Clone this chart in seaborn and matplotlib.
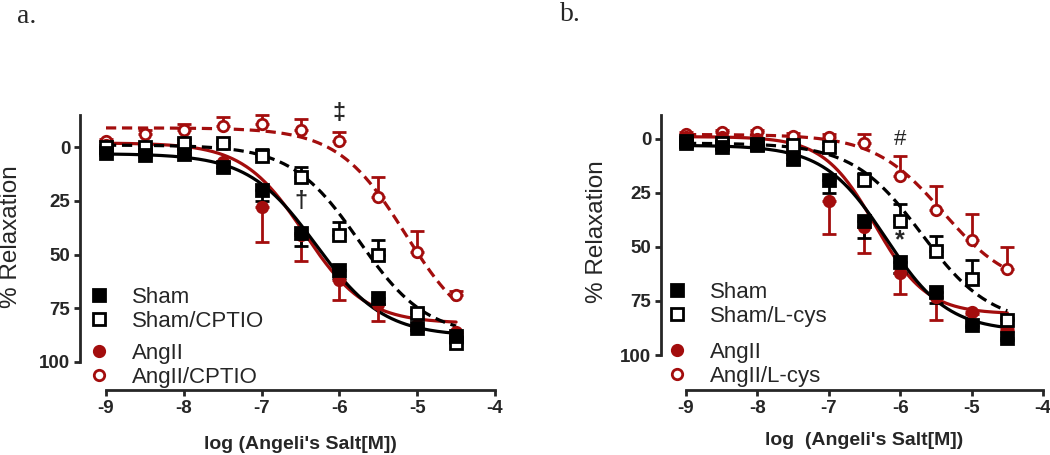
import numpy as np
import matplotlib
matplotlib.use('Agg')
import matplotlib.pyplot as plt
from matplotlib.lines import Line2D
import seaborn as sns

# log concentration of Angeli's salt (M)
log_conc = [-9, -8.5, -8, -7.5, -7, -6.5, -6, -5.5, -5, -4.5]

# panel a - means and one-sided SEM
sham_a = [2.5, 3.5, 3, 9, 20, 40, 57, 70, 84, 88]
sham_a_err = [1, 1, 1, 2, 5, 6, 4, 3, 1, 1]
sham_cptio = [0, 0, -2, -2, 4, 14, 41, 50, 77, 91]
sham_cptio_err = [1, 1, 2, 1, 3, 5, 6, 7, 1, 1]
ang_a = [-1, 0, 1, 7, 28, 41, 62, 73, 83, 86]
ang_a_err = [1, 1, 1, 2, 16, 12, 9, 8, 2, 1]
ang_cptio = [-3, -6, -8, -10, -11, -8, -3, 23, 49, 69]
ang_cptio_err = [1, 2, 3, 4, 4, 5, 4, 9, 10, 2]

# panel b
sham_b = [2, 4, 3, 9.5, 19, 38, 57, 71, 86, 92]
sham_b_err = [1, 1, 1, 2, 6, 8, 5, 5, 1, 1]
sham_lcys = [1, 2, 2.5, 3, 4, 19, 38, 52, 65, 84]
sham_lcys_err = [1, 1, 1, 1, 2, 3, 8, 7, 9, 1]
ang_b = [-1, -1, 0, 5, 29, 41, 62, 73, 80, 88]
ang_b_err = [1, 1, 1, 2, 15, 12, 10, 11, 1, 1]
ang_lcys = [-2, -3, -3, -1.5, -1, 2, 17, 33, 47, 60]
ang_lcys_err = [1, 1, 1, 1, 1, 4, 9, 11, 12, 10]

# fitted sigmoid parameters: top, bottom, logEC50, hill slope
fit_sham_a = [3, 88, -6.3, 1.0]
fit_sham_cptio = [-1, 88, -5.75, 1.0]
fit_ang_a = [-2, 82, -6.45, 1.1]
fit_ang_cptio = [-9, 90, -5.15, 1.0]
fit_sham_b = [3, 89, -6.2, 1.0]
fit_sham_lcys = [2, 86, -5.7, 0.9]
fit_ang_b = [-1, 81, -6.35, 1.2]
fit_ang_lcys = [-2, 70, -5.4, 0.9]

RED = '#a30d0d'
BLACK = '#000000'
DASH = (0, (3.2, 1.8))
PX = 72 / 100  # points per pixel

sns.set_style('ticks')
plt.rcParams['font.family'] = ['Liberation Sans', 'DejaVu Sans']
plt.rcParams['axes.unicode_minus'] = False


def sigmoid(x, top, bottom, logec50, hill):
    return top + (bottom - top) / (1 + 10 ** ((logec50 - x) * hill))


def draw_curve(ax, params, color, dashed):
    xs = np.linspace(-9, -4.5, 300)
    ys = sigmoid(xs, *params)
    sns.lineplot(x=xs, y=ys, ax=ax, color=color, lw=2.3,
                 linestyle=DASH if dashed else '-', zorder=2)


def draw_points(ax, y, err, color, filled, marker):
    zeros = [0] * len(err)
    # filled symbols get error below, open symbols above (axis is inverted)
    yerr = [zeros, err] if filled else [err, zeros]
    cont = ax.errorbar(log_conc, y, yerr=yerr, fmt=marker, color=color,
                       ms=8.5 if marker == 's' else 7.5, mew=2,
                       mfc=color if filled else 'white', mec=color,
                       ecolor=color, elinewidth=2, capsize=5, capthick=2,
                       zorder=3)
    for art in cont.get_children():
        art.set_clip_on(False)
    cont.lines[0].set_clip_on(False)


def style_axis(ax, ytop, yoff_px, xoff_px):
    ax.set_xlim(-9, -4)
    ax.set_ylim(100, ytop)
    ax.set_xticks([-9, -8, -7, -6, -5, -4])
    ax.set_yticks([0, 25, 50, 75, 100])
    sns.despine(ax=ax)
    ax.spines['left'].set_position(('outward', yoff_px * PX))
    ax.spines['bottom'].set_position(('outward', xoff_px * PX))
    for s in ['left', 'bottom']:
        ax.spines[s].set_linewidth(2)
    ax.tick_params(width=2, length=4, labelsize=13.5, pad=3)
    for lab in ax.get_xticklabels() + ax.get_yticklabels():
        lab.set_fontweight('bold')


def add_legend(ax, labels, fig, x, y1, y2):
    h = [Line2D([], [], ls='none', marker='s', ms=8.5, mew=2, color=BLACK, mfc=BLACK),
         Line2D([], [], ls='none', marker='s', ms=8.5, mew=2, color=BLACK, mfc='white'),
         Line2D([], [], ls='none', marker='o', ms=7.5, mew=2, color=RED, mfc=RED),
         Line2D([], [], ls='none', marker='o', ms=7.5, mew=2, color=RED, mfc='white')]
    kw = dict(frameon=False, fontsize=16, handlelength=1.0, handletextpad=1.0,
              labelspacing=0.12, borderpad=0, borderaxespad=0, loc='upper left',
              bbox_transform=fig.transFigure)
    leg1 = ax.legend(h[:2], labels[:2], bbox_to_anchor=(x, y1), **kw)
    ax.add_artist(leg1)
    ax.legend(h[2:], labels[2:], bbox_to_anchor=(x, y2), **kw)


fig = plt.figure(figsize=(10.5, 4.55), dpi=100)

# ---- panel a
ax1 = fig.add_axes([106 / 1050, 1 - 362 / 455, 389 / 1050, 247 / 455])
draw_curve(ax1, fit_ang_cptio, RED, True)
draw_curve(ax1, fit_ang_a, RED, False)
draw_curve(ax1, fit_sham_cptio, BLACK, True)
draw_curve(ax1, fit_sham_a, BLACK, False)
draw_points(ax1, ang_cptio, ang_cptio_err, RED, False, 'o')
draw_points(ax1, ang_a, ang_a_err, RED, True, 'o')
draw_points(ax1, sham_cptio, sham_cptio_err, BLACK, False, 's')
draw_points(ax1, sham_a, sham_a_err, BLACK, True, 's')
style_axis(ax1, -15, 26, 28)
ax1.set_xlabel('log (Angeli\'s Salt[M])', fontsize=14, fontweight='bold')
ax1.xaxis.set_label_coords(0.5, -0.30)
ax1.text(-6, -15.5, '\u2021', ha='center', va='center', fontsize=17,
         fontweight='bold')
ax1.text(-6.5, 25.5, '\u2020', ha='center', va='center', fontsize=17,
         fontweight='bold')
add_legend(ax1, ['Sham', 'Sham/CPTIO', 'AngII', 'AngII/CPTIO'], fig,
           88 / 1050, 1 - 287 / 455, 1 - 343 / 455)
fig.text(11 / 1050, 1 - 237 / 455, '% Relaxation', rotation=90,
         ha='center', va='center', fontsize=17.5)

# ---- panel b
ax2 = fig.add_axes([686 / 1050, 1 - 355 / 455, 357 / 1050, 240 / 455])
draw_curve(ax2, fit_ang_lcys, RED, True)
draw_curve(ax2, fit_ang_b, RED, False)
draw_curve(ax2, fit_sham_lcys, BLACK, True)
draw_curve(ax2, fit_sham_b, BLACK, False)
draw_points(ax2, ang_lcys, ang_lcys_err, RED, False, 'o')
draw_points(ax2, ang_b, ang_b_err, RED, True, 'o')
draw_points(ax2, sham_lcys, sham_lcys_err, BLACK, False, 's')
draw_points(ax2, sham_b, sham_b_err, BLACK, True, 's')
style_axis(ax2, -11, 25, 35)
ax2.set_xlabel('log  (Angeli\'s Salt[M])', fontsize=14, fontweight='bold')
ax2.xaxis.set_label_coords(0.5, -0.32)
ax2.text(-6, 0.5, '#', ha='center', va='center', fontsize=16)
ax2.text(-6, 47, '*', ha='center', va='center', fontsize=18, fontweight='bold')
add_legend(ax2, ['Sham', 'Sham/L-cys', 'AngII', 'AngII/L-cys'], fig,
           666 / 1050, 1 - 282 / 455, 1 - 342 / 455)
fig.text(597 / 1050, 1 - 232 / 455, '% Relaxation', rotation=90,
         ha='center', va='center', fontsize=17.5)

fig.text(17 / 1050, 1 - 4 / 455, 'a.', ha='left', va='top', fontsize=20,
         family='Liberation Serif')
fig.text(560 / 1050, 1 - 2 / 455, 'b.', ha='left', va='top', fontsize=20,
         family='Liberation Serif')

fig.savefig('out.png', dpi=100, facecolor='white')
